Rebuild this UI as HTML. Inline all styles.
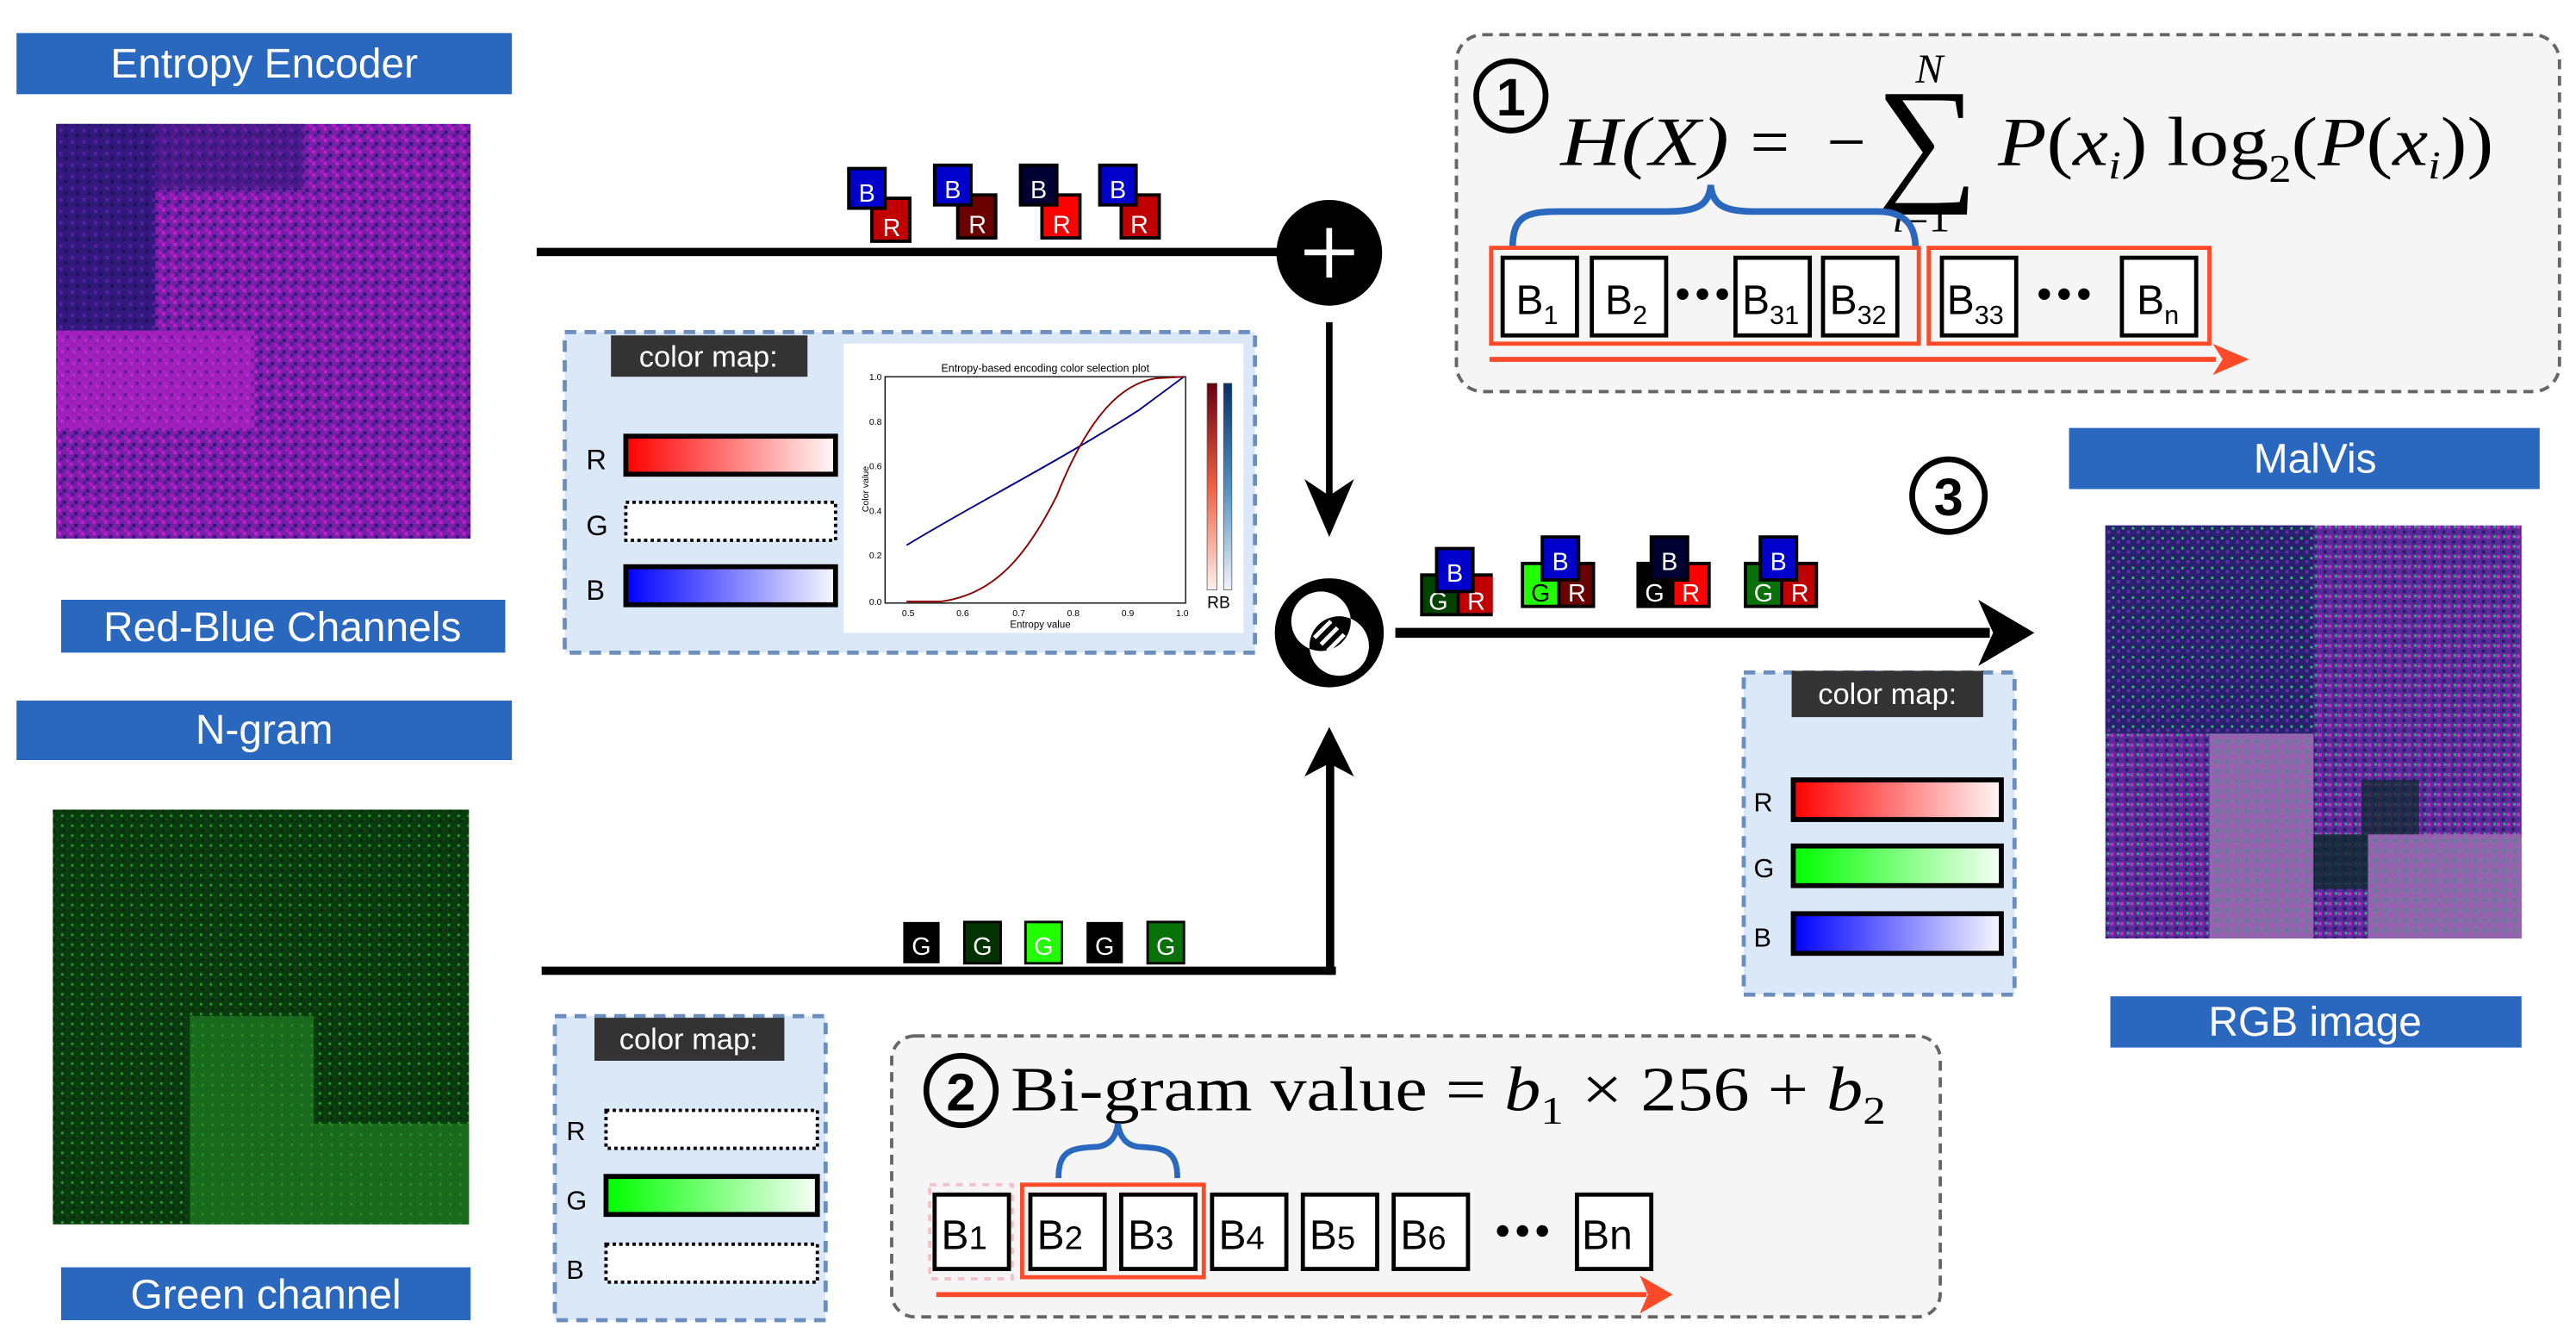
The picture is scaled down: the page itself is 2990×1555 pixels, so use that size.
<!DOCTYPE html>
<html><head><meta charset="utf-8"><style>
html,body{margin:0;padding:0;background:#fff;width:2990px;height:1555px;overflow:hidden}
svg{display:block}
text{font-family:"Liberation Sans",sans-serif}
.serif{font-family:"Liberation Serif",serif}
</style></head><body>
<svg width="2990" height="1555" viewBox="0 0 1560 811" preserveAspectRatio="none" xmlns="http://www.w3.org/2000/svg">
<defs>
<pattern id="pn" width="7" height="7" patternUnits="userSpaceOnUse">
<rect width="7" height="7" fill="#7a1fa8"/><rect x="0" y="0" width="2" height="2" fill="#c020d0"/><rect x="3" y="2" width="2" height="2" fill="#30157a"/><rect x="5" y="5" width="2" height="2" fill="#b018c8"/><rect x="1" y="4" width="2" height="2" fill="#4a1a90"/>
</pattern>
<pattern id="pd" width="7" height="7" patternUnits="userSpaceOnUse">
<rect width="7" height="7" fill="#2a1878"/><rect x="1" y="1" width="2" height="2" fill="#5020a0"/><rect x="4" y="4" width="2" height="2" fill="#14104a"/>
</pattern>
<pattern id="pm" width="7" height="7" patternUnits="userSpaceOnUse">
<rect width="7" height="7" fill="#a820c0"/><rect x="2" y="2" width="2" height="2" fill="#d030e0"/><rect x="5" y="0" width="2" height="2" fill="#601898"/>
</pattern>
<pattern id="gn" width="6" height="6" patternUnits="userSpaceOnUse">
<rect width="6" height="6" fill="#0a3a10"/><rect x="1" y="1" width="1.5" height="1.5" fill="#20a020"/><rect x="4" y="3" width="1.5" height="1.5" fill="#104a10"/><rect x="2" y="4" width="1.5" height="1.5" fill="#062806"/>
</pattern>
<pattern id="gl" width="6" height="6" patternUnits="userSpaceOnUse">
<rect width="6" height="6" fill="#1a6a1e"/><rect x="2" y="2" width="1.5" height="1.5" fill="#2a8a2a"/>
</pattern>
<pattern id="rp" width="6" height="6" patternUnits="userSpaceOnUse">
<rect width="6" height="6" fill="#5a2a98"/><rect x="0" y="0" width="2" height="2" fill="#c030c8"/><rect x="3" y="3" width="2" height="2" fill="#2a1a70"/><rect x="4" y="0" width="1.5" height="1.5" fill="#30b080"/>
</pattern>
<pattern id="rd" width="6" height="6" patternUnits="userSpaceOnUse">
<rect width="6" height="6" fill="#2a2070"/><rect x="1" y="1" width="1.5" height="1.5" fill="#30c070"/><rect x="4" y="3" width="2" height="2" fill="#5a30a0"/>
</pattern>
<pattern id="rl" width="6" height="6" patternUnits="userSpaceOnUse">
<rect width="6" height="6" fill="#8a6aa8"/><rect x="1" y="1" width="2" height="2" fill="#b050c0"/><rect x="4" y="4" width="1.5" height="1.5" fill="#5a7a9a"/>
</pattern>
<linearGradient id="gr" x1="0" x2="1"><stop offset="0" stop-color="#ff0000"/><stop offset="1" stop-color="#fff8f8"/></linearGradient>
<linearGradient id="gg" x1="0" x2="1"><stop offset="0" stop-color="#00ff00"/><stop offset="1" stop-color="#f6fff6"/></linearGradient>
<linearGradient id="gb" x1="0" x2="1"><stop offset="0" stop-color="#0000ff"/><stop offset="1" stop-color="#f8f8ff"/></linearGradient>
<linearGradient id="cbr" x1="0" y1="1" x2="0" y2="0"><stop offset="0" stop-color="#fff0ec"/><stop offset="0.5" stop-color="#f06040"/><stop offset="1" stop-color="#6a0010"/></linearGradient>
<linearGradient id="cbb" x1="0" y1="1" x2="0" y2="0"><stop offset="0" stop-color="#f0f4fa"/><stop offset="0.5" stop-color="#5090c0"/><stop offset="1" stop-color="#08306b"/></linearGradient>
</defs>

<rect x="10" y="20" width="300" height="37" fill="#2a67bf"/>
<text x="160" y="47" font-size="25" fill="#fff" text-anchor="middle">Entropy Encoder</text>
<rect x="34" y="75" width="251" height="251" fill="url(#pn)"/>
<rect x="34" y="75" width="60" height="125" fill="url(#pd)" opacity="0.9"/>
<rect x="94" y="75" width="90" height="40" fill="url(#pd)" opacity="0.6"/>
<rect x="34" y="200" width="120" height="60" fill="url(#pm)" opacity="0.8"/>
<rect x="37" y="363" width="269" height="32" fill="#2a67bf"/>
<text x="171" y="388" font-size="25" fill="#fff" text-anchor="middle">Red-Blue Channels</text>

<rect x="10" y="424" width="300" height="36" fill="#2a67bf"/>
<text x="160" y="450" font-size="25" fill="#fff" text-anchor="middle">N-gram</text>
<rect x="32" y="490" width="252" height="251" fill="url(#gn)"/>
<rect x="115" y="615" width="75" height="126" fill="url(#gl)"/>
<rect x="190" y="680" width="94" height="61" fill="url(#gl)"/>
<rect x="37" y="767" width="248" height="32" fill="#2a67bf"/>
<text x="161" y="792" font-size="25" fill="#fff" text-anchor="middle">Green channel</text>

<rect x="325" y="150" width="452" height="5" fill="#000"/>
<g font-size="15" fill="#fff" text-anchor="middle">
<rect x="528" y="120" width="23" height="26" fill="#c00000" stroke="#000" stroke-width="2"/><text x="540" y="143">R</text>
<rect x="514" y="102" width="22" height="24" fill="#0000cc" stroke="#000" stroke-width="2"/><text x="525" y="122">B</text>
<rect x="580" y="118" width="23" height="26" fill="#6a0000" stroke="#000" stroke-width="2"/><text x="592" y="141">R</text>
<rect x="566" y="100" width="22" height="24" fill="#0000cc" stroke="#000" stroke-width="2"/><text x="577" y="120">B</text>
<rect x="631" y="118" width="23" height="26" fill="#ff0000" stroke="#000" stroke-width="2"/><text x="643" y="141">R</text>
<rect x="618" y="100" width="22" height="24" fill="#000033" stroke="#000" stroke-width="2"/><text x="629" y="120">B</text>
<rect x="679" y="118" width="23" height="26" fill="#c00000" stroke="#000" stroke-width="2"/><text x="690" y="141">R</text>
<rect x="666" y="100" width="22" height="24" fill="#0000cc" stroke="#000" stroke-width="2"/><text x="677" y="120">B</text>
</g>

<circle cx="805" cy="153" r="32" fill="#000"/>
<rect x="790" y="151" width="30" height="3.5" fill="#fff"/><rect x="803.2" y="138" width="3.5" height="30" fill="#fff"/>
<rect x="803" y="195" width="4" height="110" fill="#000"/>
<polygon points="790,290 805,325 820,290 805,300" fill="#000"/>

<circle cx="805" cy="383" r="33" fill="#000"/>
<circle cx="800" cy="376" r="18" fill="#fff"/>
<circle cx="811" cy="391" r="18" fill="#fff"/>
<clipPath id="ic"><circle cx="800" cy="376" r="18"/></clipPath>
<g clip-path="url(#ic)"><circle cx="811" cy="391" r="18" fill="#000"/>
<g stroke="#fff" stroke-width="2.5"><line x1="796" y1="386" x2="806" y2="376"/><line x1="800" y1="390" x2="810" y2="380"/><line x1="804" y1="394" x2="814" y2="384"/></g></g>

<rect x="328" y="585" width="481" height="5" fill="#000"/>
<rect x="803" y="455" width="5" height="135" fill="#000"/>
<polygon points="790,470 805,440 820,470 805,462" fill="#000"/>
<g font-size="15" fill="#fff" text-anchor="middle">
<rect x="547" y="558" width="22" height="25" fill="#000"/><text x="558" y="578">G</text>
<rect x="584" y="558" width="22" height="25" fill="#003300" stroke="#000" stroke-width="1.5"/><text x="595" y="578">G</text>
<rect x="621" y="558" width="22" height="25" fill="#22ff00" stroke="#000" stroke-width="1.5"/><text x="632" y="578">G</text>
<rect x="658" y="558" width="22" height="25" fill="#000"/><text x="669" y="578">G</text>
<rect x="695" y="558" width="22" height="25" fill="#0a700a" stroke="#000" stroke-width="1.5"/><text x="706" y="578">G</text>
</g>

<rect x="845" y="380" width="360" height="6" fill="#000"/>
<polygon points="1198,363 1232,383 1198,403 1207,383" fill="#000"/>
<g font-size="15" fill="#fff" text-anchor="middle">
<rect x="860" y="347" width="44" height="26" fill="#000"/><rect x="862" y="349" width="20" height="22" fill="#004400"/><rect x="884" y="349" width="20" height="22" fill="#c00000"/>
<text x="871" y="369">G</text><text x="894" y="369">R</text>
<rect x="870" y="332" width="22" height="26" fill="#0000cc" stroke="#000" stroke-width="2"/><text x="881" y="352">B</text>
<rect x="921" y="340" width="45" height="28" fill="#000"/><rect x="923" y="342" width="20" height="24" fill="#22ff00"/><rect x="945" y="342" width="19" height="24" fill="#6a0000"/>
<text x="933" y="364" fill="#000">G</text><text x="955" y="364">R</text>
<rect x="934" y="325" width="22" height="26" fill="#0000cc" stroke="#000" stroke-width="2"/><text x="945" y="345">B</text>
<rect x="991" y="340" width="45" height="28" fill="#000"/><rect x="1014" y="342" width="20" height="24" fill="#ff0000"/>
<text x="1002" y="364">G</text><text x="1024" y="364">R</text>
<rect x="1000" y="325" width="22" height="26" fill="#000033" stroke="#000" stroke-width="2"/><text x="1011" y="345">B</text>
<rect x="1056" y="340" width="45" height="28" fill="#000"/><rect x="1058" y="342" width="20" height="24" fill="#0a700a"/><rect x="1080" y="342" width="19" height="24" fill="#c00000"/>
<text x="1068" y="364">G</text><text x="1090" y="364">R</text>
<rect x="1066" y="325" width="22" height="26" fill="#0000cc" stroke="#000" stroke-width="2"/><text x="1077" y="345">B</text>
</g>

<rect x="342" y="201" width="418" height="194" fill="#dae8f8" stroke="#6c8ebf" stroke-width="2.5" stroke-dasharray="7,5"/>
<rect x="370" y="203" width="119" height="25" fill="#333"/>
<text x="429" y="222" font-size="18" fill="#fff" text-anchor="middle">color map:</text>
<text x="355" y="284" font-size="17">R</text>
<rect x="379" y="264" width="127" height="23" fill="url(#gr)" stroke="#000" stroke-width="3"/>
<text x="355" y="324" font-size="17">G</text>
<rect x="379" y="304" width="127" height="23" fill="#fff" stroke="#000" stroke-width="2" stroke-dasharray="2,2"/>
<text x="355" y="363" font-size="17">B</text>
<rect x="379" y="343" width="127" height="23" fill="url(#gb)" stroke="#000" stroke-width="3"/>
<rect x="511" y="208" width="242" height="175" fill="#fff"/>
<text x="633" y="225" font-size="6.5" text-anchor="middle">Entropy-based encoding color selection plot</text>
<rect x="536" y="228" width="182" height="137" fill="none" stroke="#000" stroke-width="0.7"/>
<g font-size="5.5" text-anchor="end"><text x="534" y="230">1.0</text><text x="534" y="257">0.8</text><text x="534" y="284">0.6</text><text x="534" y="311">0.4</text><text x="534" y="338">0.2</text><text x="534" y="366">0.0</text></g>
<g font-size="5.5" text-anchor="middle"><text x="550" y="373">0.5</text><text x="583" y="373">0.6</text><text x="617" y="373">0.7</text><text x="650" y="373">0.8</text><text x="683" y="373">0.9</text><text x="716" y="373">1.0</text></g>
<text x="630" y="380" font-size="6" text-anchor="middle">Entropy value</text>
<text x="526" y="296" font-size="5.5" text-anchor="middle" transform="rotate(-90 526 296)">Color value</text>
<path d="M549,330 C590,305 640,280 690,248 L717,228" fill="none" stroke="#00008b" stroke-width="1"/>
<path d="M549,364 L570,364 C600,360 620,340 640,300 C660,250 680,232 700,229 L717,228" fill="none" stroke="#8b0000" stroke-width="1"/>
<rect x="731" y="232" width="6" height="125" fill="url(#cbr)" stroke="#555" stroke-width="0.4"/>
<rect x="741" y="232" width="5" height="125" fill="url(#cbb)" stroke="#555" stroke-width="0.4"/>
<text x="738" y="368" font-size="10" text-anchor="middle">RB</text>

<rect x="882" y="21" width="668" height="216" rx="16" fill="#f5f5f5" stroke="#666" stroke-width="2" stroke-dasharray="6,4"/>
<circle cx="915" cy="58" r="21" fill="none" stroke="#000" stroke-width="3.5"/>
<text x="915" y="70" font-size="32" text-anchor="middle" font-weight="bold">1</text>
<text x="945" y="100" font-size="42" class="serif" font-style="italic" textLength="102" lengthAdjust="spacingAndGlyphs">H(X)</text>
<text x="1060" y="100" font-size="42" class="serif" textLength="70" lengthAdjust="spacing">= −</text>
<text x="1136" y="112" font-size="84" class="serif" textLength="62" lengthAdjust="spacingAndGlyphs">∑</text>
<text x="1160" y="50" font-size="25" class="serif" font-style="italic">N</text>
<text x="1146" y="140" font-size="26" class="serif"><tspan font-style="italic">i</tspan>=1</text>
<text x="1210" y="100" font-size="42" class="serif" textLength="300" lengthAdjust="spacingAndGlyphs"><tspan font-style="italic">P</tspan>(<tspan font-style="italic">x</tspan><tspan font-size="24" font-style="italic" dy="8">i</tspan><tspan dy="-8">) log</tspan><tspan font-size="24" dy="10">2</tspan><tspan dy="-10">(</tspan><tspan font-style="italic">P</tspan>(<tspan font-style="italic">x</tspan><tspan font-size="24" font-style="italic" dy="8">i</tspan><tspan dy="-8">))</tspan></text>
<path d="M916,150 C916,130 925,128 945,128 L1010,128 C1028,128 1035,124 1036,112 C1037,124 1044,128 1062,128 L1137,128 C1155,128 1160,138 1160,150" fill="none" stroke="#2a67bf" stroke-width="4"/>
<rect x="903" y="150" width="259" height="58" fill="none" stroke="#ff4a2a" stroke-width="2.5"/>
<rect x="1168" y="150" width="170" height="58" fill="none" stroke="#ff4a2a" stroke-width="2.5"/>
<g fill="#fff" stroke="#000" stroke-width="2.5">
<rect x="910" y="156" width="45" height="47"/><rect x="964" y="156" width="45" height="47"/><rect x="1051" y="156" width="45" height="47"/><rect x="1104" y="156" width="45" height="47"/><rect x="1176" y="156" width="45" height="47"/><rect x="1285" y="156" width="45" height="47"/>
</g>
<g font-size="25">
<text x="918" y="190">B<tspan font-size="16" dy="6">1</tspan></text>
<text x="972" y="190">B<tspan font-size="16" dy="6">2</tspan></text>
<text x="1055" y="190">B<tspan font-size="16" dy="6">31</tspan></text>
<text x="1108" y="190">B<tspan font-size="16" dy="6">32</tspan></text>
<text x="1179" y="190">B<tspan font-size="16" dy="6">33</tspan></text>
<text x="1294" y="190">B<tspan font-size="16" dy="6">n</tspan></text>
</g>
<g fill="#000"><circle cx="1019" cy="178" r="3.5"/><circle cx="1031" cy="178" r="3.5"/><circle cx="1043" cy="178" r="3.5"/>
<circle cx="1238" cy="178" r="3.5"/><circle cx="1250" cy="178" r="3.5"/><circle cx="1262" cy="178" r="3.5"/></g>
<rect x="902" y="216" width="440" height="3" fill="#ff4a2a"/>
<polygon points="1340,208 1362,217.5 1340,227 1346,217.5" fill="#ff4a2a"/>

<circle cx="1180" cy="300" r="22" fill="none" stroke="#000" stroke-width="3.5"/>
<text x="1180" y="312" font-size="32" text-anchor="middle" font-weight="bold">3</text>

<rect x="1253" y="259" width="285" height="37" fill="#2a67bf"/>
<text x="1402" y="286" font-size="25" fill="#fff" text-anchor="middle">MalVis</text>
<rect x="1275" y="318" width="252" height="250" fill="url(#rp)"/>
<rect x="1275" y="318" width="126" height="126" fill="url(#rd)"/>
<rect x="1338" y="444" width="63" height="124" fill="url(#rl)"/>
<rect x="1434" y="505" width="93" height="63" fill="url(#rl)"/>
<rect x="1401" y="505" width="33" height="33" fill="#0a2a2a" opacity="0.8"/>
<rect x="1430" y="472" width="35" height="33" fill="#0a2a2a" opacity="0.7"/>
<rect x="1278" y="603" width="249" height="31" fill="#2a67bf"/>
<text x="1402" y="627" font-size="25" fill="#fff" text-anchor="middle">RGB image</text>

<rect x="1056" y="407" width="164" height="195" fill="#dae8f8" stroke="#6c8ebf" stroke-width="2.5" stroke-dasharray="7,5"/>
<rect x="1085" y="406" width="116" height="28" fill="#333"/>
<text x="1143" y="426" font-size="18" fill="#fff" text-anchor="middle">color map:</text>
<text x="1062" y="491" font-size="16">R</text>
<rect x="1086" y="472" width="126" height="24" fill="url(#gr)" stroke="#000" stroke-width="3"/>
<text x="1062" y="531" font-size="16">G</text>
<rect x="1086" y="512" width="126" height="24" fill="url(#gg)" stroke="#000" stroke-width="3"/>
<text x="1062" y="573" font-size="16">B</text>
<rect x="1086" y="553" width="126" height="24" fill="url(#gb)" stroke="#000" stroke-width="3"/>

<rect x="336" y="615" width="164" height="184" fill="#dae8f8" stroke="#6c8ebf" stroke-width="2.5" stroke-dasharray="7,5"/>
<rect x="360" y="616" width="115" height="26" fill="#333"/>
<text x="417" y="635" font-size="18" fill="#fff" text-anchor="middle">color map:</text>
<text x="343" y="690" font-size="16">R</text>
<rect x="367" y="672" width="128" height="23" fill="#fff" stroke="#000" stroke-width="2" stroke-dasharray="2,2"/>
<text x="343" y="732" font-size="16">G</text>
<rect x="367" y="712" width="128" height="23" fill="url(#gg)" stroke="#000" stroke-width="3"/>
<text x="343" y="774" font-size="16">B</text>
<rect x="367" y="753" width="128" height="23" fill="#fff" stroke="#000" stroke-width="2" stroke-dasharray="2,2"/>

<rect x="540" y="627" width="635" height="170" rx="14" fill="#f5f5f5" stroke="#666" stroke-width="2" stroke-dasharray="6,4"/>
<circle cx="582" cy="660" r="21" fill="none" stroke="#000" stroke-width="3.5"/>
<text x="582" y="672" font-size="32" text-anchor="middle" font-weight="bold">2</text>
<text x="612" y="672" font-size="38" class="serif" textLength="530" lengthAdjust="spacingAndGlyphs">Bi-gram value = <tspan font-style="italic">b</tspan><tspan font-size="24" dy="8">1</tspan><tspan dy="-8"> × 256 + </tspan><tspan font-style="italic">b</tspan><tspan font-size="24" dy="8">2</tspan></text>
<path d="M641,713 C641,695 650,695 665,694 C672,693 676,688 677,680 C678,688 682,693 689,694 C704,695 713,695 713,713" fill="none" stroke="#2a67bf" stroke-width="3.5"/>
<rect x="563" y="717" width="50" height="57" fill="none" stroke="#f4c0c8" stroke-width="2" stroke-dasharray="4,4"/>
<rect x="619" y="717" width="110" height="56" fill="none" stroke="#ff4a2a" stroke-width="2.5"/>
<g fill="#fff" stroke="#000" stroke-width="2.5">
<rect x="566" y="723" width="45" height="45"/><rect x="624" y="723" width="45" height="45"/><rect x="679" y="723" width="45" height="45"/><rect x="734" y="723" width="45" height="45"/><rect x="789" y="723" width="45" height="45"/><rect x="844" y="723" width="45" height="45"/><rect x="955" y="723" width="45" height="45"/>
</g>
<g font-size="25">
<text x="570" y="756">B<tspan font-size="20">1</tspan></text>
<text x="628" y="756">B<tspan font-size="20">2</tspan></text>
<text x="683" y="756">B<tspan font-size="20">3</tspan></text>
<text x="738" y="756">B<tspan font-size="20">4</tspan></text>
<text x="793" y="756">B<tspan font-size="20">5</tspan></text>
<text x="848" y="756">B<tspan font-size="20">6</tspan></text>
<text x="958" y="756">Bn</text>
</g>
<g fill="#000"><circle cx="910" cy="745" r="3.5"/><circle cx="922" cy="745" r="3.5"/><circle cx="934" cy="745" r="3.5"/></g>
<rect x="567" y="782" width="430" height="3" fill="#ff4a2a"/>
<polygon points="993,772 1013,783.5 993,795 998,783.5" fill="#ff4a2a"/>
</svg>
</body></html>
